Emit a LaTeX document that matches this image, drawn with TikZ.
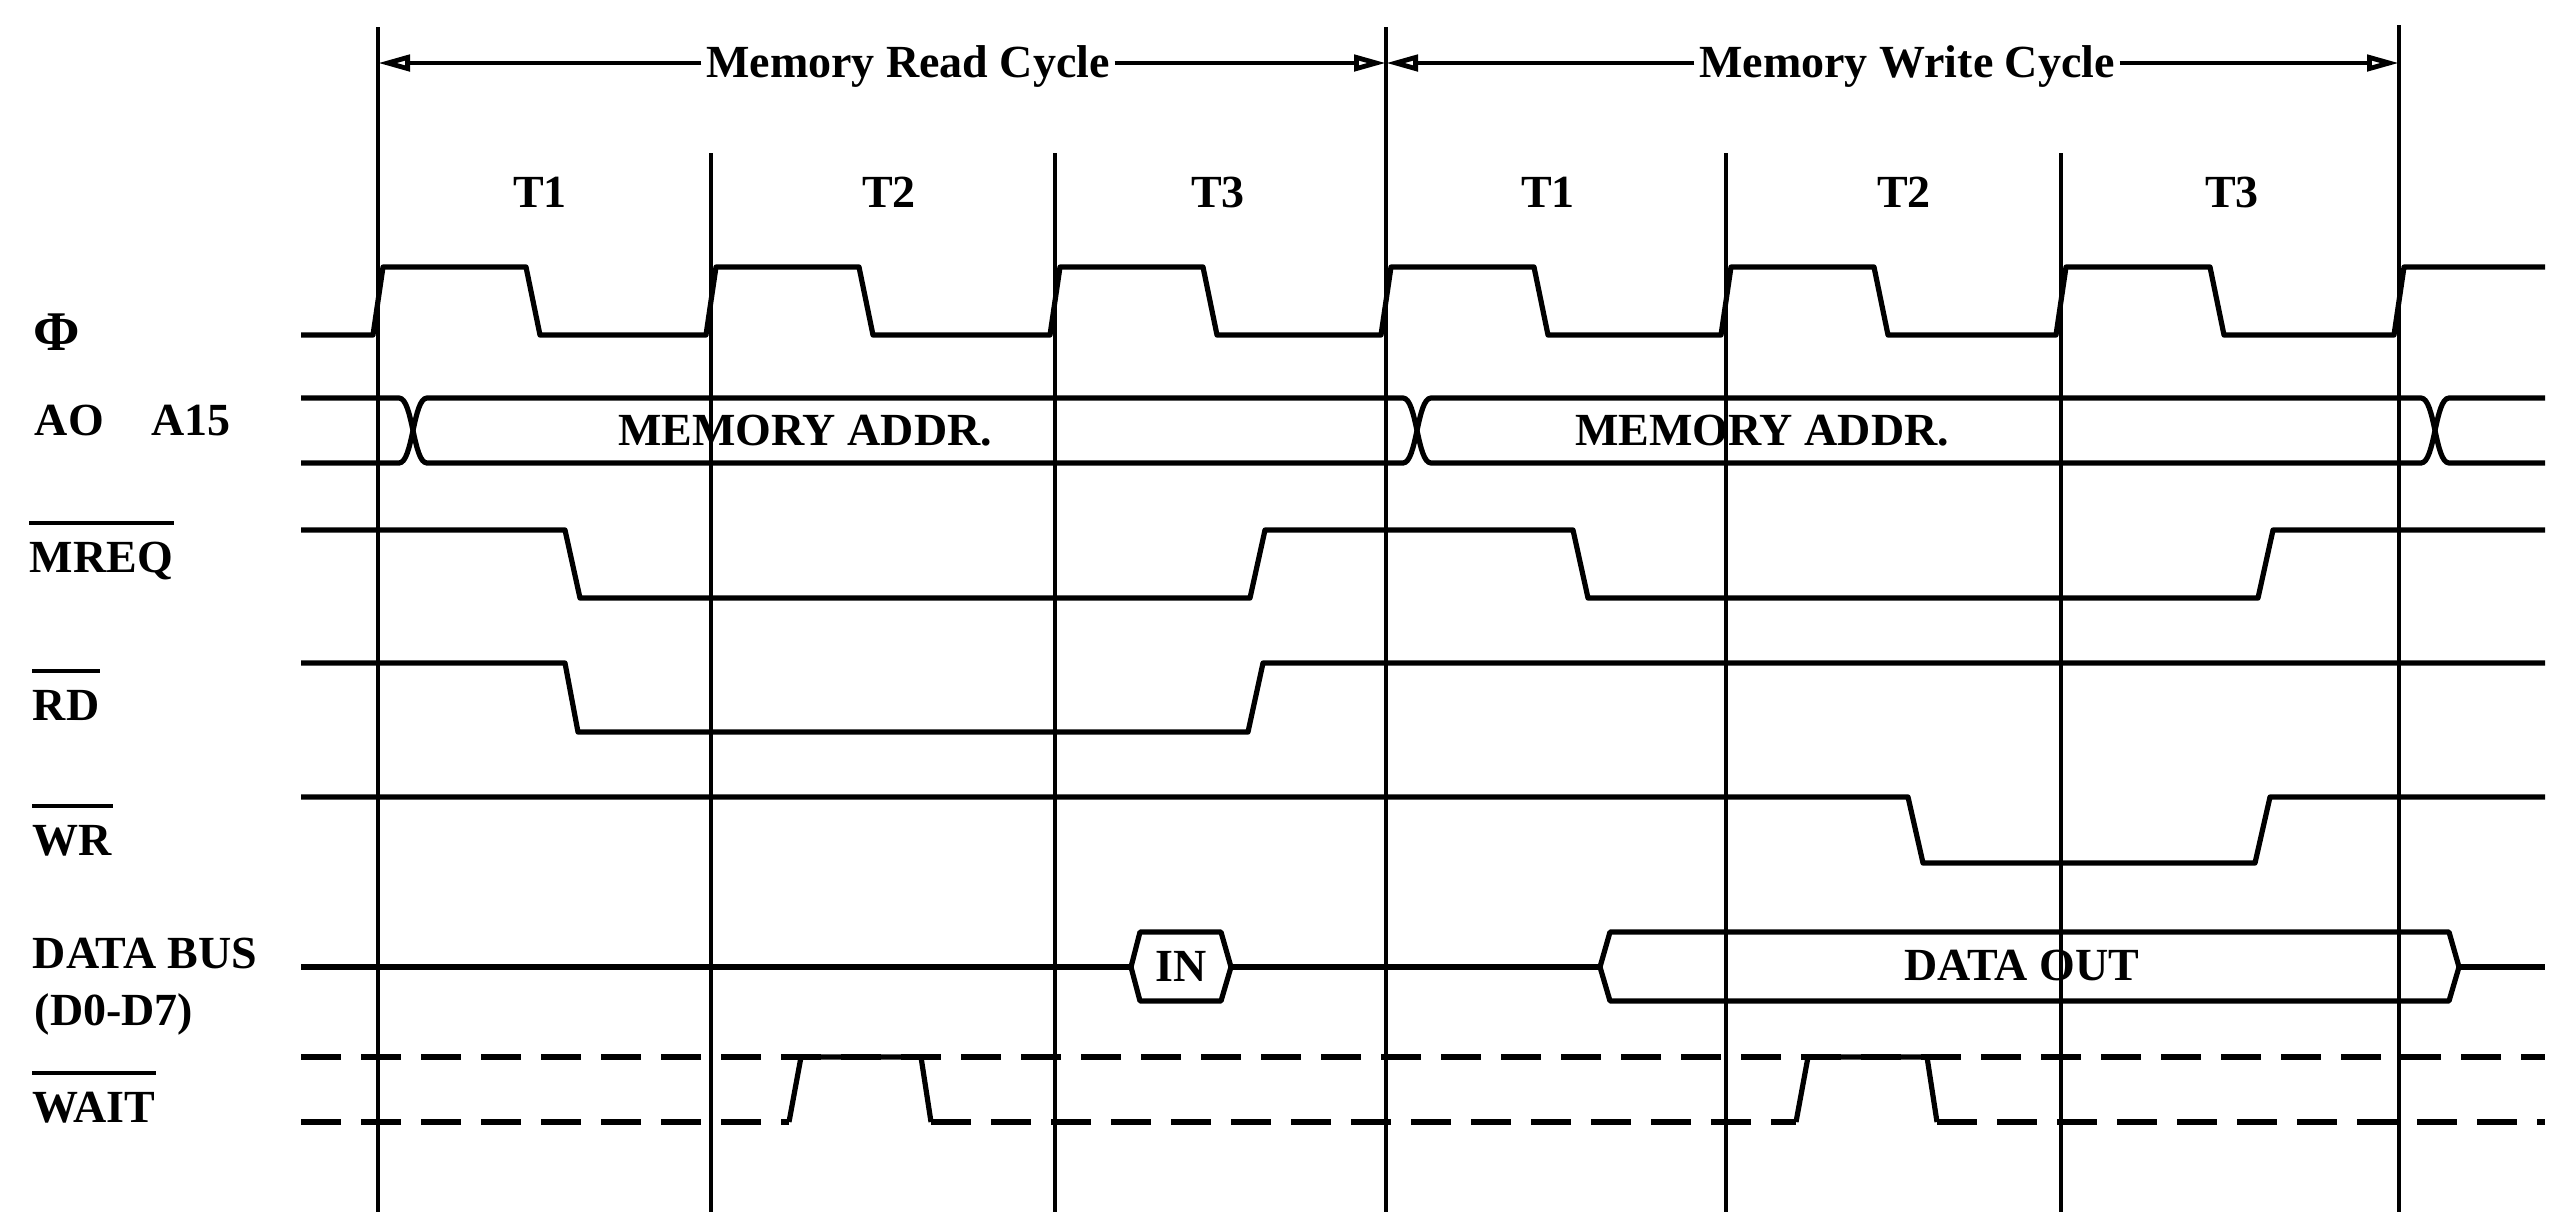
\documentclass[tikz,border=0pt]{standalone}
\usepackage{fontspec}
\setmainfont{Liberation Serif}
\usetikzlibrary{arrows.meta}
\begin{document}
\begin{tikzpicture}[x=0.25pt,y=-0.25pt,
  sig/.style={line width=1.3pt, line join=round},
  gridline/.style={line width=1.05pt},
  wavedash/.style={line width=1.3pt, dash pattern=on 10pt off 5pt},
  lbl/.style={font=\fontsize{11.5}{13}\selectfont\bfseries, inner sep=0pt},
  bar/.style={line width=1.1pt},
  cyc/.style={line width=1.2pt, -{Triangle[open,length=8pt,width=4pt]}},
]
\useasboundingbox (0,0) rectangle (2571,1212);

% vertical cycle / state boundaries
\coordinate (L0) at (378,0);
\coordinate (L1) at (711,0);
\coordinate (L2) at (1055,0);
\coordinate (L3) at (1386,0);
\coordinate (L4) at (1726,0);
\coordinate (L5) at (2061,0);
\coordinate (L6) at (2399,0);
\draw[gridline] (378,27) -- (378,1212);
\draw[gridline] (711,153) -- (711,1212);
\draw[gridline] (1055,153) -- (1055,1212);
\draw[gridline] (1386,27) -- (1386,1212);
\draw[gridline] (1726,153) -- (1726,1212);
\draw[gridline] (2061,153) -- (2061,1212);
\draw[gridline] (2399,25) -- (2399,1212);

% cycle headings
\node[lbl, anchor=base] (rc) at (908,77) {Memory Read Cycle};
\node[lbl, anchor=base] (wc) at (1907,77) {Memory Write Cycle};
\draw[cyc] ([xshift=-1pt]rc.west |- 0,63) -- (L0 |- 0,63);
\draw[cyc] ([xshift=1pt]rc.east |- 0,63) -- (L3 |- 0,63);
\draw[cyc] ([xshift=-1pt]wc.west |- 0,63) -- (L3 |- 0,63);
\draw[cyc] ([xshift=1pt]wc.east |- 0,63) -- (L6 |- 0,63);

% T states
\node[lbl, anchor=base] (tr1) at (540,207) {T1};
\node[lbl, anchor=base] (tr2) at (889,207) {T2};
\node[lbl, anchor=base] (tr3) at (1218,207) {T3};
\node[lbl, anchor=base] (tw1) at (1548,207) {T1};
\node[lbl, anchor=base] (tw2) at (1904,207) {T2};
\node[lbl, anchor=base] (tw3) at (2232,207) {T3};

% signal names
\node[lbl, anchor=base west, font=\fontsize{14}{16}\selectfont\bfseries] (phi) at (33,350) {Φ};
\node[lbl, anchor=base west] (addr) at (34,435) {AO\hspace{12pt}A15};
\node[lbl, anchor=base west] (mreq) at (29,572) {MREQ};
\node[lbl, anchor=base west] (rd) at (32,720) {RD};
\node[lbl, anchor=base west] (wr) at (32,855) {WR};
\node[lbl, anchor=base west] (dbus) at (32,968) {DATA BUS};
\node[lbl, anchor=base west] (dbits) at (34,1025) {(D0-D7)};
\node[lbl, anchor=base west] (wait) at (32,1122) {WAIT};
\draw[bar] ([yshift=4.5pt]mreq.north west) -- ([yshift=4.5pt]mreq.north east);
\draw[bar] ([yshift=4.5pt]rd.north west) -- ([yshift=4.5pt]rd.north east);
\draw[bar] ([yshift=4.5pt]wr.north west) -- ([yshift=4.5pt]wr.north east);
\draw[bar] ([yshift=4.5pt]wait.north west) -- ([yshift=4.5pt]wait.north east);

% clock
\draw[sig] (301,335) -- (373,335) -- (383,267) -- (526,267) -- (540,335)
  -- (706,335) -- (716,267) -- (859,267) -- (873,335)
  -- (1050,335) -- (1060,267) -- (1203,267) -- (1217,335)
  -- (1381,335) -- (1391,267) -- (1534,267) -- (1548,335)
  -- (1721,335) -- (1731,267) -- (1874,267) -- (1888,335)
  -- (2056,335) -- (2066,267) -- (2210,267) -- (2224,335)
  -- (2394,335) -- (2404,267) -- (2545,267);

% address bus
\draw[sig] (301,398) -- (399,398) .. controls (413,398) and (413,463) .. (427,463)
  -- (1403,463) .. controls (1417,463) and (1417,398) .. (1431,398)
  -- (2421,398) .. controls (2435,398) and (2435,463) .. (2449,463) -- (2545,463);
\draw[sig] (301,463) -- (399,463) .. controls (413,463) and (413,398) .. (427,398)
  -- (1403,398) .. controls (1417,398) and (1417,463) .. (1431,463)
  -- (2421,463) .. controls (2435,463) and (2435,398) .. (2449,398) -- (2545,398);
\node[lbl, anchor=base] (addr1) at (805,445) {MEMORY ADDR.};
\node[lbl, anchor=base] (addr2) at (1762,445) {MEMORY ADDR.};

% MREQ
\draw[sig] (301,530) -- (565,530) -- (580,598) -- (1250,598) -- (1265,530)
  -- (1573,530) -- (1588,598) -- (2258,598) -- (2273,530) -- (2545,530);
% RD
\draw[sig] (301,663) -- (565,663) -- (578,732) -- (1248,732) -- (1263,663) -- (2545,663);
% WR
\draw[sig] (301,797) -- (1908,797) -- (1923,863) -- (2255,863) -- (2270,797) -- (2545,797);

% data bus
\draw[sig] (301,967) -- (1131,967);
\draw[sig] (1131,967) -- (1140,932) -- (1221,932) -- (1231,967) -- (1221,1001) -- (1140,1001) -- cycle;
\node[lbl, anchor=base] (din) at (1181,981) {IN};
\draw[sig] (1231,967) -- (1600,967);
\draw[sig] (1600,967) -- (1610,932) -- (2449,932) -- (2459,967) -- (2449,1001) -- (1610,1001) -- cycle;
\node[lbl, anchor=base] (dout) at (2022,980) {DATA OUT};
\draw[sig] (2459,967) -- (2545,967);

% WAIT
\draw[wavedash] (301,1057) -- (2545,1057);
\draw[wavedash] (301,1122) -- (789,1122);
\draw[sig] (789,1122) -- (801,1057) -- (921,1057) -- (931,1122);
\draw[wavedash] (931,1122) -- (1796,1122);
\draw[sig] (1796,1122) -- (1808,1057) -- (1927,1057) -- (1937,1122);
\draw[wavedash] (1937,1122) -- (2545,1122);
\end{tikzpicture}
\end{document}
